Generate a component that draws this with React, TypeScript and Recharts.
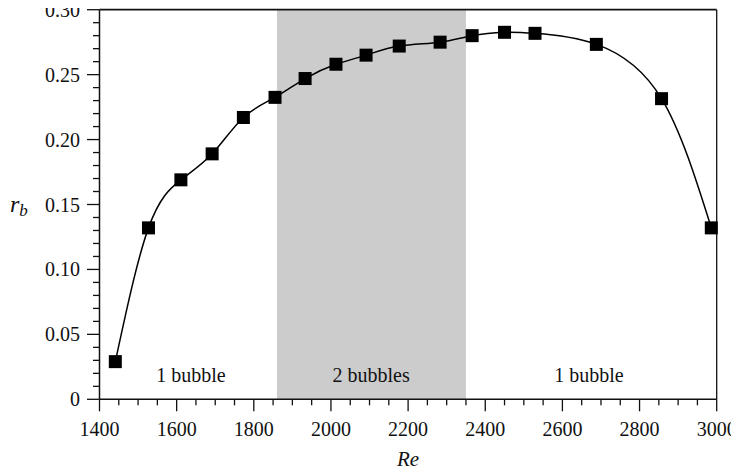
import React from 'react';
import { ComposedChart, Line, Scatter, XAxis, YAxis, ReferenceArea, ReferenceLine } from 'recharts';

const reValues = [1441, 1527, 1611, 1692, 1773, 1855, 1933, 2013, 2091, 2177, 2283, 2366, 2450, 2529, 2688, 2857, 2986];
const rbValues = [0.029, 0.132, 0.169, 0.189, 0.217, 0.2325, 0.247, 0.258, 0.265, 0.272, 0.275, 0.28, 0.2826, 0.2818, 0.2733, 0.2315, 0.132];

const xMajorTicks = [1400, 1600, 1800, 2000, 2200, 2400, 2600, 2800, 3000];
const xMinorStep = 50;
const yMajorTicks = [0, 0.05, 0.1, 0.15, 0.2, 0.25, 0.3];
const yMinorStep = 0.01;

const twoBubbleRange = [1860, 2350];
const regionLabels = ['1 bubble', '2 bubbles', '1 bubble'];
const regionLabelRe = [1637, 2104, 2669];
const regionLabelRb = [0.0136, 0.0136, 0.0136];

const data = reValues.map((re, i) => ({ re, rb: rbValues[i] }));
const labelData = regionLabels.map((text, i) => ({ re: regionLabelRe[i], rb: regionLabelRb[i], text }));

const xTicks: number[] = [];
for (let v = 1400; v <= 3000; v += xMinorStep) xTicks.push(v);
const yTicks: number[] = [];
for (let i = 0; i <= 30; i++) yTicks.push(Math.round(i * yMinorStep * 100) / 100);

const FONT = '"Liberation Serif", "DejaVu Serif", serif';
const INK = '#111';

const XTick = (props: any) => {
  const { x, y, payload } = props;
  const v = payload.value;
  const major = xMajorTicks.includes(v);
  return (
    <g>
      <line x1={x} x2={x} y1={y} y2={y + (major ? 12 : 6)} stroke={INK} strokeWidth={1.3} />
      {major && (
        <text x={x} y={y + 36.5} textAnchor="middle" fontSize={20} fontFamily={FONT} fill={INK}>
          {String(v)}
        </text>
      )}
    </g>
  );
};

const YTick = (props: any) => {
  const { x, y, payload } = props;
  const v = payload.value;
  const major = yMajorTicks.some((m) => Math.abs(m - v) < 1e-9);
  return (
    <g>
      <line x1={x - (major ? 12.5 : 6.5)} x2={x} y1={y} y2={y} stroke={INK} strokeWidth={1.3} />
      {major && (
        <text x={x - 19.5} y={y + 7} textAnchor="end" fontSize={20} fontFamily={FONT} fill={INK}>
          {v === 0 ? '0' : v.toFixed(2)}
        </text>
      )}
    </g>
  );
};

const SquareDot = (props: any) => {
  const { cx, cy, index } = props;
  if (cx == null || cy == null) return <g key={index} />;
  return <rect key={index} x={cx - 6.5} y={cy - 6.5} width={13} height={13} fill="#000" />;
};

const RegionText = (props: any) => {
  const { cx, cy, payload } = props;
  return (
    <text x={cx} y={cy} textAnchor="middle" fontSize={20} fontFamily={FONT} fill={INK}>
      {payload.text}
    </text>
  );
};

const YLabel = (props: any) => {
  const vb = props.viewBox || { x: 0, y: 0, width: 0, height: 0 };
  const cy = vb.y + vb.height / 2;
  return (
    <text x={vb.x + 2} y={cy + 7} fontFamily={FONT} fontStyle="italic" fill={INK}>
      <tspan fontSize={24}>r</tspan>
      <tspan fontSize={17} dy={4}>b</tspan>
    </text>
  );
};

export default function App() {
  return (
    <div style={{ marginTop: -8, marginLeft: -8, width: 739, height: 474 }}>
      <ComposedChart width={739} height={474} margin={{ top: 9.7, right: 22.3, bottom: 0, left: 8 }}>
        <ReferenceArea
          x1={twoBubbleRange[0]}
          x2={twoBubbleRange[1]}
          y1={0}
          y2={0.3}
          fill="#cccccc"
          fillOpacity={1}
          stroke="none"
        />
        <XAxis
          type="number"
          dataKey="re"
          domain={[1400, 3000]}
          ticks={xTicks}
          interval={0}
          tickSize={0}
          tickMargin={0}
          tick={<XTick />}
          height={74.7}
          axisLine={{ stroke: INK, strokeWidth: 1.5 }}
          label={{ value: 'Re', position: 'insideBottom', offset: 8, fontSize: 21, fontFamily: FONT, fontStyle: 'italic', fill: INK }}
        />
        <YAxis
          type="number"
          dataKey="rb"
          domain={[0, 0.3]}
          ticks={yTicks}
          interval={0}
          tickSize={0}
          tickMargin={0}
          tick={<YTick />}
          width={91.5}
          axisLine={{ stroke: INK, strokeWidth: 1.5 }}
          label={<YLabel />}
        />
        <ReferenceLine y={0.3} stroke={INK} strokeWidth={1.8} />
        <ReferenceLine x={3000} stroke={INK} strokeWidth={1.3} />
        <Line
          data={data}
          dataKey="rb"
          type="natural"
          stroke="#000"
          strokeWidth={1.5}
          dot={<SquareDot />}
          activeDot={false}
          isAnimationActive={false}
        />
        <Scatter data={labelData} dataKey="rb" shape={<RegionText />} isAnimationActive={false} />
      </ComposedChart>
    </div>
  );
}
